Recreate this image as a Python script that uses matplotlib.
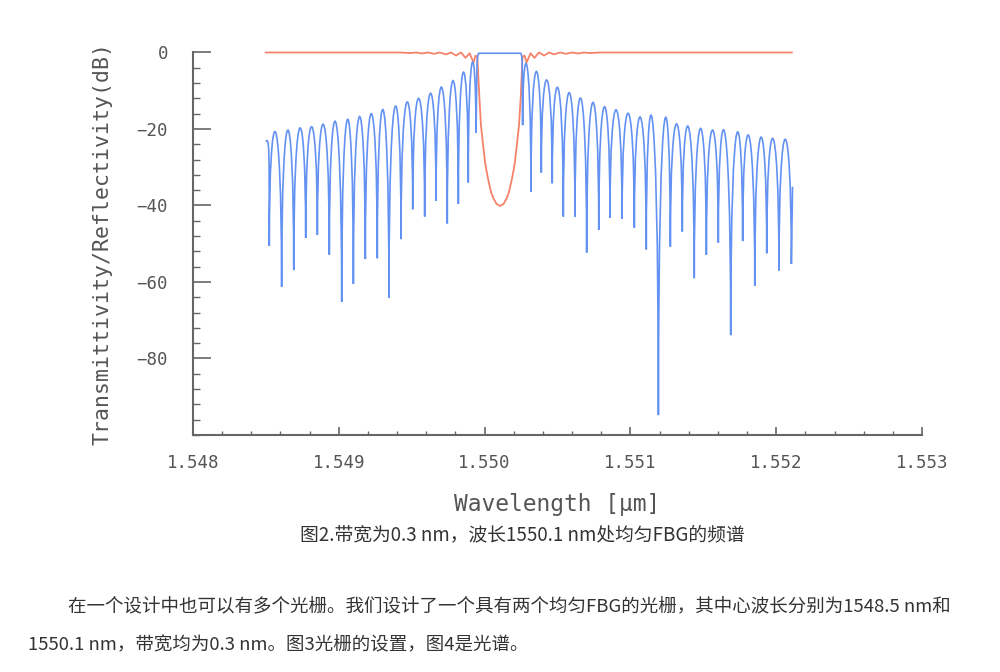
import matplotlib
matplotlib.use("Agg")
import matplotlib.pyplot as plt
from matplotlib.path import Path
from matplotlib.patches import PathPatch
from matplotlib.ticker import MultipleLocator

# reflection spectrum (blue): wavelength in um, level in dB
start_wl, start_db = 1.548499, -23.3
end_wl, end_db = 1.552112, -35.1

left_null_wl = [1.548523, 1.548608, 1.548691, 1.548773, 1.548853, 1.548935, 1.549020,
                1.549100, 1.549182, 1.549264, 1.549344, 1.549427, 1.549507, 1.549589,
                1.549667, 1.549744, 1.549820, 1.549888, 1.549941]
left_null_db = [-50.6, -61.3, -56.9, -48.5, -47.7, -52.9, -65.2, -60.5, -54.0, -53.8,
                -64.1, -48.8, -41.0, -42.9, -38.8, -44.7, -39.6, -34.0, -21.0]
left_peak_db = [-20.8, -20.3, -19.8, -19.4, -18.8, -18.1, -17.5, -16.8, -16.0, -15.0,
                -14.2, -13.0, -12.0, -10.7, -9.1, -7.4, -5.2, -2.7]

band_wl = [1.549948, 1.549953, 1.549960, 1.550248, 1.550254, 1.550258]
band_db = [-3.0, -0.8, -0.2, -0.2, -0.8, -3.0]

right_null_wl = [1.550261, 1.550318, 1.550389, 1.550464, 1.550540, 1.550620, 1.550700,
                 1.550783, 1.550860, 1.550943, 1.551027, 1.551109, 1.551192, 1.551274,
                 1.551356, 1.551438, 1.551521, 1.551603, 1.551688, 1.551770, 1.551853,
                 1.551935, 1.552019, 1.552104]
right_null_db = [-19.0, -36.4, -31.4, -34.2, -42.9, -42.9, -52.3, -46.4, -43.2, -43.5,
                 -45.8, -51.5, -94.8, -50.8, -46.8, -59.0, -52.9, -49.7, -73.9, -49.3,
                 -61.0, -52.5, -57.0, -55.3]
right_peak_db = [-3.3, -5.0, -7.2, -9.2, -10.5, -12.0, -13.1, -14.2, -15.0, -15.9, -16.9,
                 -17.6, -18.2, -18.7, -19.4, -19.9, -20.3, -20.7, -21.3, -21.7, -22.2,
                 -22.5, -22.7]

# transmission spectrum (red)
trans_wl = [1.548499, 1.549420, 1.549488, 1.549530, 1.549571, 1.549612, 1.549653,
            1.549694, 1.549735, 1.549770, 1.549804, 1.549838, 1.549869, 1.549897,
            1.549924, 1.549938, 1.549950, 1.549964, 1.549975, 1.549991, 1.550006,
            1.550025, 1.550044, 1.550060, 1.550082, 1.550106, 1.550130, 1.550152,
            1.550167, 1.550186, 1.550205, 1.550220, 1.550236, 1.550248, 1.550260,
            1.550274, 1.550288, 1.550315, 1.550342, 1.550373, 1.550408, 1.550442,
            1.550476, 1.550517, 1.550558, 1.550600, 1.550641, 1.550682, 1.550723,
            1.550792, 1.552107]
trans_db = [0.0, 0.0, -0.15, 0.0, -0.25, 0.0, -0.35, 0.0, -0.5, 0.0, -0.8, 0.0, -1.4, -0.2,
            -2.6, -0.8, -1.1, -11.6, -19.0, -24.6, -29.5, -33.3, -36.5, -38.1, -39.6,
            -40.1, -39.6, -38.1, -36.5, -33.3, -29.5, -24.6, -19.0, -11.6, -1.1, -0.8,
            -2.6, -0.2, -1.4, 0.0, -0.8, 0.0, -0.5, 0.0, -0.35, 0.0, -0.25, 0.0, -0.15,
            0.0, 0.0]

caption = "图2.带宽为0.3 nm，波长1550.1 nm处均匀FBG的频谱"
para1 = "在一个设计中也可以有多个光栅。我们设计了一个具有两个均匀FBG的光栅，其中心波长分别为1548.5 nm和"
para2 = "1550.1 nm，带宽均为0.3 nm。图3光栅的设置，图4是光谱。"

blue = "#6492f2"
red = "#f5836a"
grey = "#666666"

plt.rcParams["font.family"] = ["Noto Sans CJK SC", "DejaVu Sans"]

fig = plt.figure(figsize=(10, 6.72), dpi=100)
ax = fig.add_axes([0.193, 0.3527, 0.729, 0.5692])


def add_lobes(verts, codes, null_wl, null_db, peak_db):
    # one bezier arch per side lobe, control points straight above the nulls
    for i in range(len(peak_db)):
        c = (peak_db[i] - (null_db[i] + null_db[i + 1]) / 8) / 0.75
        verts += [(null_wl[i], c), (null_wl[i + 1], c), (null_wl[i + 1], null_db[i + 1])]
        codes += [Path.CURVE4] * 3


verts = [(start_wl, start_db)]
codes = [Path.MOVETO]
verts += [(left_null_wl[0], start_db + 1), (left_null_wl[0], start_db), (left_null_wl[0], left_null_db[0])]
codes += [Path.CURVE4] * 3
add_lobes(verts, codes, left_null_wl, left_null_db, left_peak_db)
for w, d in zip(band_wl, band_db):
    verts.append((w, d))
    codes.append(Path.LINETO)
verts.append((right_null_wl[0], right_null_db[0]))
codes.append(Path.LINETO)
add_lobes(verts, codes, right_null_wl, right_null_db, right_peak_db)
verts.append((end_wl, end_db))
codes.append(Path.LINETO)

ax.plot(trans_wl, trans_db, color=red, lw=1.3, clip_on=False, zorder=2)
ax.add_patch(PathPatch(Path(verts, codes), fill=False, edgecolor=blue, lw=1.2,
                       clip_on=False, zorder=3))

ax.set_xlim(1.548, 1.553)
ax.set_ylim(-100, 0)
ax.xaxis.set_major_locator(MultipleLocator(0.001))
ax.xaxis.set_minor_locator(MultipleLocator(0.0002))
ax.yaxis.set_major_locator(MultipleLocator(20))
ax.yaxis.set_minor_locator(MultipleLocator(4))
ax.set_yticks([0, -20, -40, -60, -80])
ax.set_xticklabels([f"{v:.3f}" for v in ax.get_xticks()])

for s in ["top", "right"]:
    ax.spines[s].set_visible(False)
for s in ["left", "bottom"]:
    ax.spines[s].set_color(grey)
    ax.spines[s].set_linewidth(1.5)

ax.tick_params(axis="y", which="major", direction="in", length=13, width=1.2,
               color=grey, labelcolor="#555555", pad=18)
ax.tick_params(axis="y", which="minor", direction="in", length=5, width=1.0, color=grey)
ax.tick_params(axis="x", which="major", direction="in", length=6, width=1.2,
               color=grey, labelcolor="#555555", pad=14)
ax.tick_params(axis="x", which="minor", direction="in", length=3, width=1.0, color=grey)
for lab in ax.get_xticklabels() + ax.get_yticklabels():
    lab.set_family("DejaVu Sans Mono")
    lab.set_fontsize(12.5)

ax.set_xlabel("Wavelength [µm]", family="DejaVu Sans Mono", fontsize=16.5, color="#555555")
ax.set_ylabel("Transmittivity/Reflectivity(dB)", family="DejaVu Sans Mono", fontsize=15.5,
              color="#555555")
ax.xaxis.set_label_coords(0.5, -0.152)
ax.yaxis.set_label_coords(-0.11, 0.5)

fig.text(0.522, 0.204, caption, ha="center", va="center", fontsize=13.5, color="#333333")
fig.text(0.068, 0.0967, para1, ha="left", va="center", fontsize=13.3, color="#333333")
fig.text(0.028, 0.040, para2, ha="left", va="center", fontsize=13.3, color="#333333")

fig.savefig("out.png", dpi=100)
